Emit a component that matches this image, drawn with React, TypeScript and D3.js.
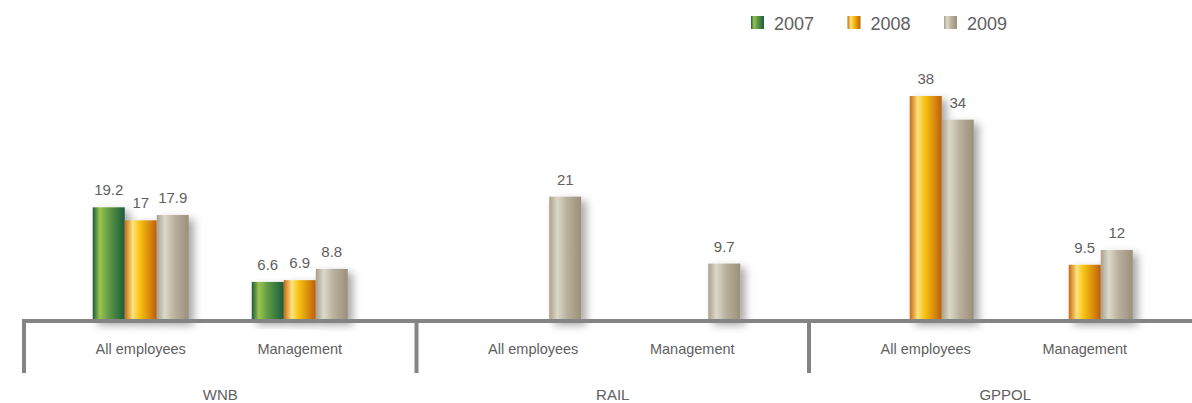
import React from "react";
import * as d3 from "d3";

const groups = ["WNB", "RAIL", "GPPOL"];
const subCategories = ["All employees", "Management"];
const years = ["2007", "2008", "2009"];
// values per [group][subCategory], null = no bar
const values2007: (number | null)[][] = [[19.2, 6.6], [null, null], [null, null]];
const values2008: (number | null)[][] = [[17, 6.9], [null, null], [38, 9.5]];
const values2009: (number | null)[][] = [[17.9, 8.8], [21, 9.7], [34, 12]];
const seriesValues = [values2007, values2008, values2009];

const W = 1192;
const H = 403;
const baseY = 321;
const groupStart = 24;
const groupWidth = 392.5;

const gradients = [
  { id: "g2007", stops: [["0%", "#1d5a3a"], ["22%", "#9cc44e"], ["50%", "#5f9a45"], ["100%", "#1c5c3c"]] },
  { id: "g2008", stops: [["0%", "#c46a16"], ["25%", "#ffe37a"], ["50%", "#f4bd0a"], ["100%", "#bf5f0c"]] },
  { id: "g2009", stops: [["0%", "#a9a08c"], ["25%", "#dcd8c8"], ["55%", "#b9b19e"], ["100%", "#9a8f7a"]] },
];

export default function App() {
  const x0 = d3.scaleBand<string>().domain(groups).range([groupStart, groupStart + groupWidth * groups.length]).padding(0);
  const x1 = d3.scalePoint<string>().domain(subCategories).range([0, groupWidth]).padding(0.734);
  const x2 = d3.scaleBand<string>().domain(years).range([-48, 48]).padding(0);
  const y = d3.scaleLinear().domain([0, 38]).range([baseY, 96]);

  const font = "'Liberation Sans', Arial, Helvetica, sans-serif";
  const textColor = "#606060";
  const axisColor = "#848484";

  const bars: JSX.Element[] = [];
  const labels: JSX.Element[] = [];
  groups.forEach((g, gi) => {
    subCategories.forEach((s, si) => {
      years.forEach((yr, yi) => {
        const v = seriesValues[yi][gi][si];
        if (v == null) return;
        const bx = (x0(g) as number) + (x1(s) as number) + (x2(yr) as number);
        const bw = x2.bandwidth();
        bars.push(
          <rect key={`b-${g}-${s}-${yr}`} x={bx} y={y(v)} width={bw} height={baseY - y(v)} fill={`url(#${gradients[yi].id})`} filter="url(#shadow)" />
        );
        labels.push(
          <text key={`l-${g}-${s}-${yr}`} x={bx + bw / 2} y={y(v) - 12} textAnchor="middle" fontSize={15} fill={textColor} fontFamily={font}>
            {String(v)}
          </text>
        );
      });
    });
  });

  const legendX = d3.scalePoint<string>().domain(years).range([751, 944]);

  return (
    <svg width={W} height={H} style={{ position: "absolute", left: 0, top: 0, background: "#fff" }}>
      <defs>
        {gradients.map((gr) => (
          <linearGradient key={gr.id} id={gr.id} x1="0" y1="0" x2="1" y2="0">
            {gr.stops.map(([o, c]) => (
              <stop key={o} offset={o} stopColor={c} />
            ))}
          </linearGradient>
        ))}
        <filter id="shadow" x="-30%" y="-10%" width="180%" height="130%">
          <feDropShadow dx="5" dy="4" stdDeviation="4" floodColor="#000" floodOpacity="0.35" />
        </filter>
      </defs>

      {/* legend */}
      {years.map((yr, i) => (
        <g key={`leg-${yr}`}>
          <rect x={legendX(yr)} y={16} width={13} height={13} fill={`url(#${gradients[i].id})`} />
          <text x={(legendX(yr) as number) + 23} y={29.5} fontSize={18} fill={textColor} fontFamily={font}>
            {yr}
          </text>
        </g>
      ))}

      {bars}
      {labels}

      {/* axis */}
      <rect x={22} y={baseY - 2} width={W - 22} height={4} fill={axisColor} />
      {groups.map((g) => (
        <rect key={`div-${g}`} x={(x0(g) as number) - 2} y={baseY} width={4} height={52} fill={axisColor} />
      ))}

      {groups.map((g) =>
        subCategories.map((s) => (
          <text key={`sc-${g}-${s}`} x={(x0(g) as number) + (x1(s) as number)} y={354} textAnchor="middle" fontSize={14.5} fill={textColor} fontFamily={font}>
            {s}
          </text>
        ))
      )}
      {groups.map((g) => (
        <text key={`g-${g}`} x={(x0(g) as number) + x0.bandwidth() / 2} y={400} textAnchor="middle" fontSize={15} fill={textColor} fontFamily={font}>
          {g}
        </text>
      ))}
    </svg>
  );
}
